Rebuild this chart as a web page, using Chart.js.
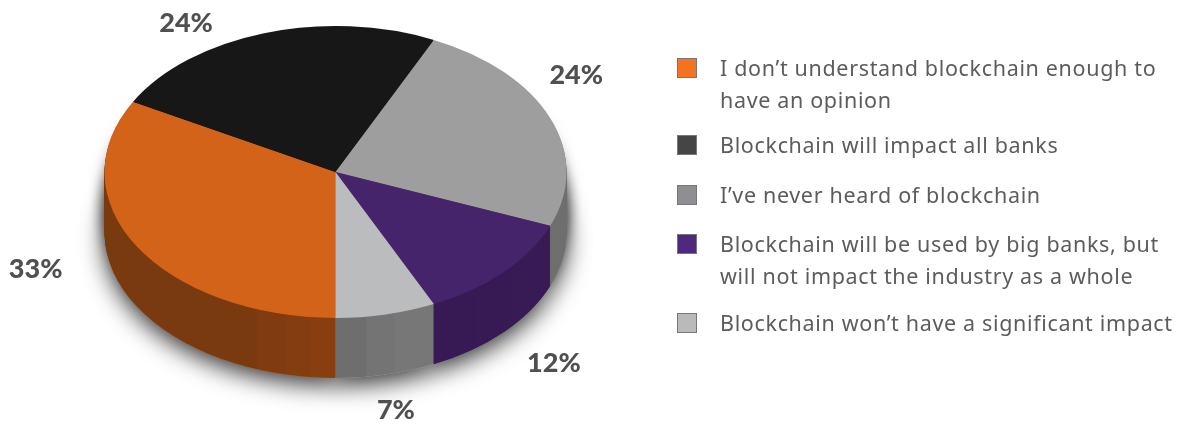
<!DOCTYPE html>
<html>
<head>
<meta charset="utf-8">
<script src="https://cdn.jsdelivr.net/npm/chart.js@4"></script>
<style>
html, body { margin: 0; padding: 0; background: #fff; overflow: hidden; }
#wrap { position: relative; width: 1185px; height: 424px; }
#pie { position: absolute; left: 0; top: 0; }
#legend { position: absolute; left: 0; top: 0; font-family: "Noto Sans", sans-serif; font-size: 21.5px; letter-spacing: 0.66px; color: #5c5c5e; }
.box { position: absolute; left: 677px; width: 18px; height: 18px; border: 1px solid #77777a; }
.txt { position: absolute; left: 720px; line-height: 31.5px; white-space: nowrap; }
</style>
</head>
<body>
<div id="wrap">
  <canvas id="pie" width="1185" height="424"></canvas>
  <div id="legend"></div>
</div>
<script>
var labels = [
    ["I don\u2019t understand blockchain enough to", "have an opinion"],
    ["Blockchain will impact all banks"],
    ["I\u2019ve never heard of blockchain"],
    ["Blockchain will be used by big banks, but", "will not impact the industry as a whole"],
    ["Blockchain won\u2019t have a significant impact"]
];
var values = [33, 24, 24, 12, 7];
var topColors = ["#d4631a", "#171717", "#9e9e9e", "#46246b", "#bbbcbe"];
var keyColors = ["#f47321", "#454547", "#8e8f93", "#4e2a7f", "#b9babc"];
var sideColors = [
    ["#7a3a10", "#7a3a10", "#803c10", "#843d10", "#883e0f", "#8c400e"],
    ["#111111"],
    ["#6f6f6f"],
    ["#381b55"],
    ["#6e6e6e", "#747474", "#777777"]
];
var sideEdges = [
    [104, 224, 257, 285, 311, 335],
    [0],
    [0],
    [0],
    [335, 366, 394, 436]
];

// layout of the page, not data
var radiusY = 146, radiusX = 231, depth = 60;
var labelOffsets = [[-101, 23], [-78, -10], [26, -43], [50, 91], [10, 96]];
var legendTops = [58, 135, 185, 234, 313];
var textTops = [52, 129, 179, 228, 307];

// stepped side colours, like the flat facets of the drawing
function sideFill(ctx, i, cx, sx) {
    var cols = sideColors[i], edges = sideEdges[i];
    if (cols.length == 1) return cols[0];
    var x0 = edges[0], x1 = edges[edges.length - 1];
    var g = ctx.createLinearGradient(cx + (x0 - cx) / sx, 0, cx + (x1 - cx) / sx, 0);
    for (var k = 0; k < cols.length; k++) {
        var a = (edges[k] - x0) / (x1 - x0);
        var b = k + 1 < edges.length ? (edges[k + 1] - x0) / (x1 - x0) : 1;
        g.addColorStop(a, cols[k]);
        g.addColorStop(b, cols[k]);
    }
    return g;
}

var tiltPlugin = {
    id: "tilt",
    beforeDatasetsDraw: function(chart) {
        var ctx = chart.ctx;
        var arcs = chart.getDatasetMeta(0).data;
        var cx = arcs[0].x;
        var sx = radiusX / radiusY;
        ctx.save();
        ctx.translate(cx, 0);
        ctx.scale(sx, 1);
        ctx.translate(-cx, 0);
        // shadow under the wall
        [60, 40, 20].forEach(function(d, n) {
            ctx.save();
            ctx.translate(0, d);
            ctx.shadowColor = n == 0 ? "rgba(0,0,0,0.8)" : "rgba(0,0,0,0.55)";
            ctx.shadowBlur = n == 0 ? 24 : 16;
            ctx.shadowOffsetY = n == 0 ? 7 : 2;
            arcs.forEach(function(el) { el.draw(ctx); });
            ctx.restore();
        });
        // wall: the same arcs stacked downwards
        for (var d = depth; d > 0; d--) {
            ctx.save();
            ctx.translate(0, d);
            arcs.forEach(function(el, i) {
                var keep = el.options.backgroundColor;
                el.options.backgroundColor = sideFill(ctx, i, cx, sx);
                el.draw(ctx);
                el.options.backgroundColor = keep;
            });
            ctx.restore();
        }
    },
    afterDatasetsDraw: function(chart) {
        chart.ctx.restore();
        var ctx = chart.ctx;
        var arcs = chart.getDatasetMeta(0).data;
        ctx.save();
        ctx.font = "900 27px Lato, sans-serif";
        ctx.fillStyle = "#505052";
        ctx.textAlign = "center";
        ctx.textBaseline = "middle";
        arcs.forEach(function(el, i) {
            var mid = (el.startAngle + el.endAngle) / 2;
            var x = el.x + radiusX * Math.cos(mid) + labelOffsets[i][0];
            var y = el.y + radiusY * Math.sin(mid) + labelOffsets[i][1];
            ctx.fillText(values[i] + "%", x, y);
        });
        ctx.restore();
    }
};

var legend = document.getElementById("legend");
labels.forEach(function(lines, i) {
    var box = document.createElement("div");
    box.className = "box";
    box.style.top = legendTops[i] + "px";
    box.style.background = keyColors[i];
    legend.appendChild(box);
    var t = document.createElement("div");
    t.className = "txt";
    t.style.top = textTops[i] + "px";
    t.innerHTML = lines.join("<br>");
    legend.appendChild(t);
});

var myChart = new Chart(document.getElementById("pie"), {
    type: "pie",
    data: {
        labels: labels.map(function(l) { return l.join(" "); }),
        datasets: [{
            data: values,
            backgroundColor: topColors,
            borderWidth: 0,
            radius: radiusY
        }]
    },
    options: {
        responsive: false,
        animation: false,
        rotation: 180,
        events: [],
        layout: { padding: { left: 0, right: 514, top: 0, bottom: 80 } },
        plugins: { legend: { display: false }, tooltip: { enabled: false } }
    },
    plugins: [tiltPlugin]
});
</script>
</body>
</html>
